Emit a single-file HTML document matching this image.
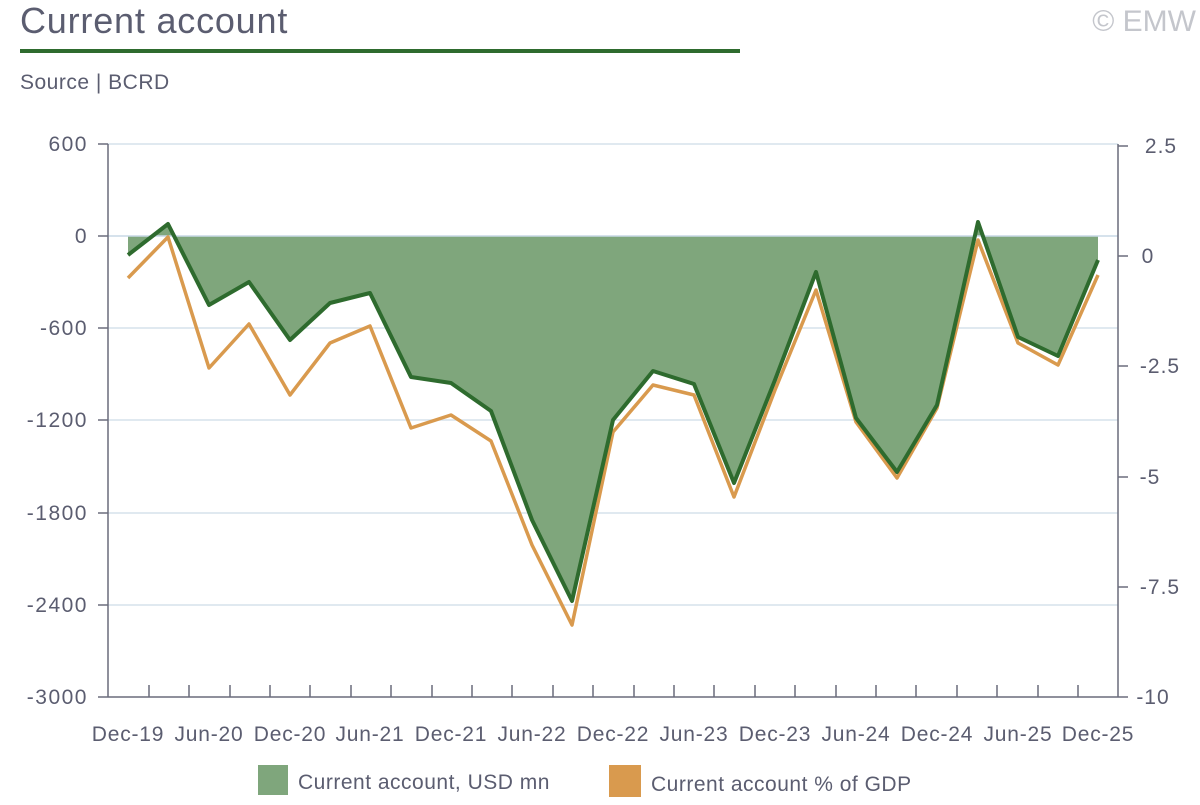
<!DOCTYPE html>
<html><head><style>
body{margin:0;background:#fff;width:1200px;height:800px;overflow:hidden;font-family:"Liberation Sans",sans-serif;}
</style></head><body>
<svg width="1200" height="800" viewBox="0 0 1200 800" xmlns="http://www.w3.org/2000/svg" font-family="Liberation Sans, sans-serif">
<text x="20" y="33" font-size="36" fill="#5b5d70" letter-spacing="0.8">Current account</text>
<text x="1196" y="31" font-size="30" fill="#c4c6cc" text-anchor="end">© EMW</text>
<rect x="20" y="49" width="720" height="4" fill="#2e6b2e"/>
<text x="20" y="89" font-size="21" fill="#5b5d70" letter-spacing="0.5">Source | BCRD</text>
<g stroke="#d6e2ec" stroke-width="1.5">
<line x1="108" x2="1118" y1="144" y2="144"/><line x1="108" x2="1118" y1="328" y2="328"/>
<line x1="108" x2="1118" y1="420" y2="420"/><line x1="108" x2="1118" y1="513" y2="513"/>
<line x1="108" x2="1118" y1="605" y2="605"/>
</g>
<path fill="#7fa67c" d="M128,236 L128,255 168,224 209,305 249,282 290,340 330,303 370,293 411,377 451,383 491,411 532,520 572,601 613,420 653,371 694,384 734,483 775,380 816,272 856,418 897,472 937,405 978,222 1018,337 1058,356 1098,260 1098,236 Z"/>
<line x1="108" x2="1118" y1="236" y2="236" stroke="#c8d8e6" stroke-width="1.5"/>
<polyline fill="none" stroke="#d99a4e" stroke-width="3.5" stroke-linejoin="round" points="128,278 168,237 209,368 249,324 290,395 330,343 370,326 411,428 451,415 491,441 532,545 572,625 613,432 653,385 694,395 734,497 775,390 816,290 856,422 897,478 937,408 978,240 1018,343 1058,365 1098,275"/>
<polyline fill="none" stroke="#2e6b2e" stroke-width="4" stroke-linejoin="round" points="128,255 168,224 209,305 249,282 290,340 330,303 370,293 411,377 451,383 491,411 532,520 572,601 613,420 653,371 694,384 734,483 775,380 816,272 856,418 897,472 937,405 978,222 1018,337 1058,356 1098,260"/>
<g stroke="#6a6c7c" stroke-width="1.5" fill="none">
<line x1="108" y1="144" x2="108" y2="697"/><line x1="1118" y1="144" x2="1118" y2="697"/>
<line x1="108" y1="697" x2="1118" y2="697"/>
<line x1="98" y1="144" x2="108" y2="144"/><line x1="98" y1="236" x2="108" y2="236"/><line x1="98" y1="328" x2="108" y2="328"/><line x1="98" y1="420" x2="108" y2="420"/><line x1="98" y1="513" x2="108" y2="513"/><line x1="98" y1="605" x2="108" y2="605"/><line x1="98" y1="697" x2="108" y2="697"/>
<line x1="1118" y1="146" x2="1128" y2="146"/><line x1="1118" y1="256" x2="1128" y2="256"/><line x1="1118" y1="366" x2="1128" y2="366"/><line x1="1118" y1="477" x2="1128" y2="477"/><line x1="1118" y1="587" x2="1128" y2="587"/><line x1="1118" y1="697" x2="1128" y2="697"/>
<path d="M149,685V697M189,685V697M230,685V697M270,685V697M310,685V697M351,685V697M391,685V697M432,685V697M472,685V697M512,685V697M553,685V697M593,685V697M634,685V697M674,685V697M714,685V697M755,685V697M795,685V697M836,685V697M876,685V697M916,685V697M957,685V697M997,685V697M1038,685V697M1078,685V697"/>
</g>
<g font-size="21" fill="#5b5d70" text-anchor="end" letter-spacing="1.5">
<text x="88" y="151">600</text><text x="88" y="243">0</text><text x="88" y="335">-600</text><text x="88" y="427">-1200</text><text x="88" y="520">-1800</text><text x="88" y="612">-2400</text><text x="88" y="704">-3000</text>
</g>
<g font-size="21" fill="#5b5d70" text-anchor="middle" letter-spacing="1">
<text x="1161" y="153">2.5</text><text x="1148" y="263">0</text><text x="1160" y="373">-2.5</text><text x="1150" y="484">-5</text><text x="1160" y="594">-7.5</text><text x="1153" y="704">-10</text>
</g>
<g font-size="21" fill="#5b5d70" text-anchor="middle" letter-spacing="0.8">
<text x="128" y="741">Dec-19</text><text x="209" y="741">Jun-20</text><text x="290" y="741">Dec-20</text><text x="370" y="741">Jun-21</text><text x="451" y="741">Dec-21</text><text x="532" y="741">Jun-22</text><text x="613" y="741">Dec-22</text><text x="694" y="741">Jun-23</text><text x="775" y="741">Dec-23</text><text x="856" y="741">Jun-24</text><text x="937" y="741">Dec-24</text><text x="1018" y="741">Jun-25</text><text x="1098" y="741">Dec-25</text>
</g>
<rect x="258" y="765" width="30" height="30" fill="#7fa67c"/>
<text x="298" y="789" font-size="21" fill="#5b5d70" letter-spacing="0.5">Current account, USD mn</text>
<rect x="609" y="765" width="32" height="32" fill="#d99a4e"/>
<text x="651" y="791" font-size="21" fill="#5b5d70" letter-spacing="0.5">Current account % of GDP</text>
</svg>
</body></html>
